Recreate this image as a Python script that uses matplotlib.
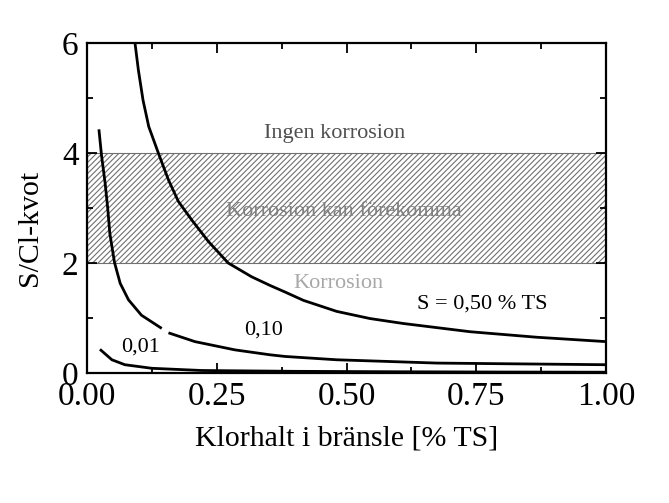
import numpy as np
import matplotlib
matplotlib.use("Agg")
import matplotlib.pyplot as plt
from matplotlib.ticker import MultipleLocator, FormatStrFormatter

# Data (Cl content [% TS] vs S/Cl ratio)
s050_x = [0.0925, 0.099, 0.108, 0.119, 0.139, 0.157, 0.176, 0.202, 0.234, 0.272,
          0.317, 0.353, 0.382, 0.417, 0.481, 0.545, 0.609, 0.738, 0.866, 1.00]
s050_y = [6.00, 5.51, 4.96, 4.48, 3.96, 3.51, 3.12, 2.78, 2.39, 2.00,
          1.75, 1.59, 1.47, 1.32, 1.12, 0.99, 0.90, 0.75, 0.65, 0.57]

# the S = 0,10 curve has a short break in the reference (NaN marks it)
s010_x = [0.023, 0.028, 0.035, 0.040, 0.044, 0.053, 0.064, 0.080, 0.105, 0.144,
          np.nan, 0.157, 0.208, 0.285, 0.353, 0.382, 0.481, 0.674, 1.00]
s010_y = [4.43, 3.96, 3.45, 2.99, 2.54, 2.01, 1.63, 1.33, 1.05, 0.81,
          np.nan, 0.73, 0.57, 0.42, 0.33, 0.30, 0.24, 0.18, 0.15]

s001_x = [0.025, 0.048, 0.073, 0.125, 0.221, 0.40, 0.60, 0.80, 1.00]
s001_y = [0.43, 0.24, 0.15, 0.085, 0.045, 0.03, 0.022, 0.017, 0.014]

zone_low, zone_high = 2.0, 4.0

plt.rcParams['font.family'] = ['Liberation Serif', 'DejaVu Serif']
plt.rcParams['hatch.color'] = '#707070'
plt.rcParams['hatch.linewidth'] = 0.8

fig = plt.figure(figsize=(6.69, 5.03), dpi=100)
ax = fig.add_axes([0.130, 0.2585, 0.776, 0.656])

ax.axhspan(zone_low, zone_high, facecolor='none', edgecolor='#707070',
           hatch='//////', linewidth=0.8)

lw = 2.0
ax.plot(s050_x, s050_y, color='black', lw=lw, solid_capstyle='butt')
ax.plot(s010_x, s010_y, color='black', lw=lw, solid_capstyle='butt')
ax.plot(s001_x, s001_y, color='black', lw=lw, solid_capstyle='butt')

ax.set_xlim(0, 1.0)
ax.set_ylim(0, 6)
ax.xaxis.set_major_locator(MultipleLocator(0.25))
ax.xaxis.set_minor_locator(MultipleLocator(0.125))
ax.yaxis.set_major_locator(MultipleLocator(2))
ax.yaxis.set_minor_locator(MultipleLocator(1))
ax.xaxis.set_major_formatter(FormatStrFormatter('%.2f'))
ax.tick_params(which='both', direction='in', top=True, right=True, labelsize=24, width=1.3)
ax.tick_params(which='major', length=7)
ax.tick_params(which='minor', length=4)
ax.tick_params(axis='x', pad=6)
ax.tick_params(axis='y', pad=6)
for sp in ax.spines.values():
    sp.set_linewidth(1.6)

ax.set_xlabel('Klorhalt i bränsle [% TS]', fontsize=21.5, labelpad=10)
ax.set_ylabel('S/Cl-kvot', fontsize=21.5)
ax.yaxis.set_label_coords(-0.085, 0.44)

fs = 16
ax.text(0.478, 4.36, 'Ingen korrosion', fontsize=fs, color='#505050', ha='center', va='center')
ax.text(0.494, 2.93, 'Korrosion kan förekomma', fontsize=fs, color='#808080', ha='center', va='center')
ax.text(0.484, 1.62, 'Korrosion', fontsize=fs, color='#a8a8a8', ha='center', va='center')
ax.text(0.762, 1.26, 'S = 0,50 % TS', fontsize=fs, color='black', ha='center', va='center')
ax.text(0.341, 0.78, '0,10', fontsize=fs, color='black', ha='center', va='center')
ax.text(0.104, 0.47, '0,01', fontsize=fs, color='black', ha='center', va='center')

fig.savefig('out.png', dpi=100)
